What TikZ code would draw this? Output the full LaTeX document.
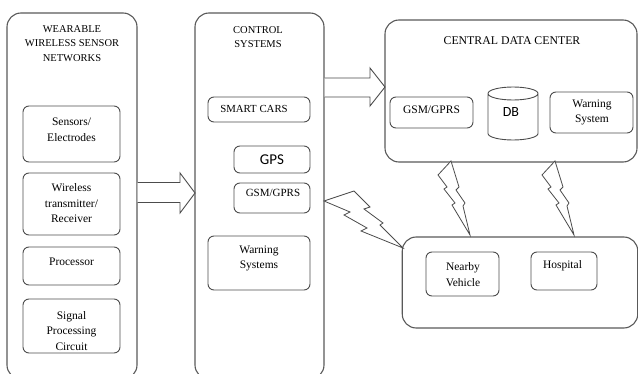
\documentclass[tikz,border=0pt]{standalone}
\usepackage{fontspec}
\setmainfont{Liberation Serif}
\newfontfamily\calib{Carlito}
\begin{document}
\begin{tikzpicture}[x=1pt,y=-1pt,
  bigbox/.style={draw=black!65, line width=1.1pt, rounded corners=14pt, inner sep=0pt},
  inbox/.style={draw=black!70, line width=0.9pt, rounded corners=6pt, inner sep=0pt},
  txt/.style={align=center, inner sep=0pt, font=\fontsize{11.5}{15.5}\selectfont},
  ttl/.style={align=center, inner sep=0pt, font=\fontsize{10.5}{14.5}\selectfont},
  blockarrow/.style={draw=black!70, line width=0.9pt, fill=white, line join=miter},
  bolt/.style={draw=black!70, line width=0.8pt, fill=white, line join=miter}]
\useasboundingbox (0,0) rectangle (638,374);
\clip (0,0) rectangle (638,374);

% wearable sensor network column
\node[bigbox, minimum width=130pt, minimum height=366pt] (wsn) at (72,196) {};
\node[ttl] (wsnt) at (72,43.5) {WEARABLE\\WIRELESS SENSOR\\NETWORKS};
\node[inbox, minimum width=97pt, minimum height=56pt] (sens) at (71.5,134) {};
\node[txt] (senst) at (71.5,130) {Sensors/\\Electrodes};
\node[inbox, minimum width=97pt, minimum height=62pt] (wtx) at (71.5,204) {};
\node[txt] (wtxt) at (71.5,203.5) {Wireless\\transmitter/\\Receiver};
\node[inbox, minimum width=97pt, minimum height=38pt] (proc) at (71.5,266) {};
\node[txt] (proct) at (71.5,262) {Processor};
\node[inbox, minimum width=97pt, minimum height=54pt] (spc) at (71.5,326) {};
\node[txt] (spct) at (71.5,331) {Signal\\Processing\\Circuit};

% control systems column
\node[bigbox, minimum width=129pt, minimum height=366pt] (ctrl) at (259.5,196) {};
\node[ttl] (ctrlt) at (258,37) {CONTROL\\SYSTEMS};
\node[inbox, minimum width=102pt, minimum height=25pt] (smart) at (259,109.5) {};
\node[txt, font=\fontsize{10.8}{14}\selectfont] (smartt) at (254,108.5) {SMART CARS};
\node[inbox, minimum width=76pt, minimum height=27pt] (gps) at (272,159.5) {};
\node[txt, font=\calib\fontsize{15}{18}\selectfont] (gpst) at (272,160) {GPS};
\node[inbox, minimum width=76pt, minimum height=30pt] (gsm) at (272,198) {};
\node[txt, font=\fontsize{11}{14}\selectfont] (gsmt) at (273,193) {GSM/GPRS};
\node[inbox, minimum width=102pt, minimum height=54pt] (warn) at (259,263) {};
\node[txt] (warnt) at (259,258.5) {Warning\\Systems};

% central data center
\node[bigbox, minimum width=252pt, minimum height=142pt] (cdc) at (511,91) {};
\node[txt, font=\fontsize{11.8}{14}\selectfont] (cdct) at (512,40.5) {CENTRAL DATA CENTER};
\node[inbox, minimum width=83pt, minimum height=31pt] (cgsm) at (431.5,112.5) {};
\node[txt] (cgsmt) at (431.5,110) {GSM/GPRS};
\draw[draw=black!70, line width=0.9pt]
  (513,93.5) ellipse [x radius=25, y radius=6.5]
  (488,93.5) -- (488,133.5) arc[start angle=180, end angle=0, x radius=25, y radius=6.5] -- (538,93.5);
\node[txt, font=\calib\fontsize{14}{16}\selectfont] (db) at (511,112) {DB};
\node[inbox, minimum width=83pt, minimum height=41pt] (cwarn) at (591.5,112.5) {};
\node[txt] (cwarnt) at (592,112.5) {Warning\\System};

% receivers
\node[bigbox, minimum width=235.5pt, minimum height=91pt] (recv) at (520,282.5) {};
\node[inbox, minimum width=73pt, minimum height=44pt] (near) at (462.5,274) {};
\node[txt] (neart) at (463,274.5) {Nearby\\Vehicle};
\node[inbox, minimum width=66pt, minimum height=38pt] (hosp) at (564,271) {};
\node[txt] (hospt) at (562.5,265.5) {Hospital};

% block arrows between columns
\draw[blockarrow] (wsn.east |- 0,182.5) -- (180,182.5) -- (180,173) -- (195,193) -- (180,213)
  -- (180,202.5) -- (wsn.east |- 0,202.5);
\draw[blockarrow] (ctrl.east |- 0,78) -- (370,78) -- (370,68) -- (385,87) -- (370,106)
  -- (370,97) -- (ctrl.east |- 0,97);

% wireless links
\draw[bolt] (324,201) -- (354,191) -- (370,207) -- (364,209) -- (383,223) -- (380,225)
  -- (403,248) -- (361,231) -- (367,228) -- (344,215) -- (350,212) -- cycle;
\draw[bolt] (451,161) -- (438,175) -- (447,187) -- (444,189) -- (455,203) -- (452,205)
  -- (470,235) -- (463,206) -- (465,203) -- (456,190) -- (459,187) -- cycle;
\draw[bolt] (555,161) -- (542,175) -- (551,187) -- (548,189) -- (559,203) -- (556,205)
  -- (574,235) -- (567,206) -- (569,203) -- (560,190) -- (563,187) -- cycle;
\end{tikzpicture}
\end{document}
